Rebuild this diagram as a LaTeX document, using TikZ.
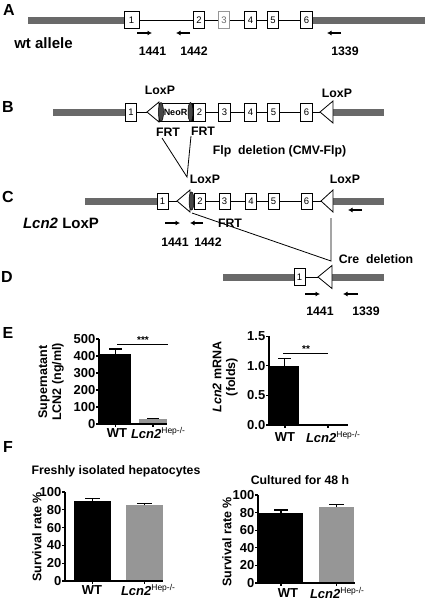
\documentclass[tikz,border=0pt]{standalone}
\usepackage{fontspec}
\setmainfont{Liberation Sans}
\usetikzlibrary{shapes.geometric,arrows.meta}
\definecolor{barg}{RGB}{105,105,105}
\definecolor{colg}{RGB}{150,150,150}
\definecolor{frtc}{RGB}{70,70,70}
\newcommand{\lcnko}{{\itshape Lcn2}\raisebox{0.42em}{\fontsize{8.5}{8.5}\selectfont\mdseries\upshape Hep-/-}}
\begin{document}
\begin{tikzpicture}[x=1pt,y=-1pt,
  exon/.style={draw, fill=white, line width=0.8pt, minimum width=11.5pt, minimum height=17pt, inner sep=0pt, font=\fontsize{9.5}{9.5}\selectfont},
  gbar/.style={line width=7pt, draw=barg},
  bb/.style={line width=1pt},
  loxp/.style={draw, fill=white, line width=0.8pt, line join=miter},
  frt/.style={ellipse, draw, fill=frtc, line width=0.5pt, minimum width=5pt, minimum height=19pt, inner sep=0pt},
  primer/.style={line width=1.1pt, -{Latex[length=4.5pt,width=5pt]}},
  lab/.style={font=\fontsize{12.3}{12}\selectfont\bfseries, inner sep=0pt},
  big/.style={font=\fontsize{15}{15}\selectfont\bfseries, inner sep=0pt},
  panel/.style={font=\fontsize{16}{16}\selectfont\bfseries, inner sep=0pt},
  thin/.style={line width=0.8pt},
  axis/.style={line width=1.1pt},
  tl/.style={font=\fontsize{13}{13}\selectfont\bfseries, inner sep=0pt, anchor=east},
  cl/.style={font=\fontsize{13}{13}\selectfont\bfseries, inner sep=0pt},
  ylab/.style={font=\fontsize{12.5}{12.5}\selectfont\bfseries, inner sep=0pt, rotate=90},
]
\useasboundingbox (0,0) rectangle (427,600);

% ---------------- Panel A ----------------
\node[panel] (pA) at (9,10) {A};
\coordinate (aS) at (28,20);
\coordinate (aE) at (425,20);
\node[exon, minimum width=15pt] (a1) at (131.5,20) {1};
\node[exon] (a2) at (199,20) {2};
\node[exon, draw=colg, text=colg!70!black] (a3) at (224,20) {3};
\node[exon] (a4) at (250.5,20) {4};
\node[exon] (a5) at (273,20) {5};
\node[exon] (a6) at (306.5,20) {6};
\draw[gbar] (aS) -- (a1);
\draw[gbar] (a6) -- (aE);
\draw[bb] (a1) -- (a2) -- (a3) -- (a4) -- (a5) -- (a6);
\coordinate (aP1s) at (137,33); \coordinate (aP1e) at (152,33);
\coordinate (aP2s) at (190,33); \coordinate (aP2e) at (176,33);
\coordinate (aP3s) at (341,33); \coordinate (aP3e) at (327,33);
\draw[primer] (aP1s) -- (aP1e);
\draw[primer] (aP2s) -- (aP2e);
\draw[primer] (aP3s) -- (aP3e);
\node[lab] (aL1) at (152.5,51) {1441};
\node[lab] (aL2) at (194,51) {1442};
\node[lab] (aL3) at (345,51) {1339};
\node[big] (wt) at (43.5,43) {wt allele};

% ---------------- Panel B ----------------
\node[panel] (pB) at (8,107) {B};
\coordinate (bS) at (53,112);
\coordinate (bE) at (384,112);
\node[exon, minimum height=18pt] (b1) at (131,112) {1};
\coordinate (bLt) at (147,112);
\draw[loxp] (bLt) -- ++(12,-10) -- ++(0,20) -- cycle;
\node[draw, line width=0.8pt, fill=white, minimum width=33pt, minimum height=18pt, inner sep=0pt,
      font=\fontsize{9}{9}\selectfont\bfseries] (neo) at (175.5,112) {NeoR};
\node[frt] (bF1) at (161,112) {};
\node[frt] (bF2) at (190.5,112) {};
\node[exon, minimum height=18pt] (b2) at (199.5,112) {2};
\node[exon, minimum height=18pt] (b3) at (224.5,112) {3};
\node[exon, minimum height=18pt] (b4) at (250.5,112) {4};
\node[exon, minimum height=18pt] (b5) at (273.5,112) {5};
\node[exon, minimum height=18pt] (b6) at (306.5,112) {6};
\coordinate (bRt) at (320,112);
\coordinate (bRb) at (333,112);
\draw[gbar] (bS) -- (b1);
\draw[gbar] (bRb) -- (bE);
\draw[loxp] (bRt) -- ++(13,-11) -- ++(0,22) -- cycle;
\draw[bb] (b1) -- (bLt);
\draw[bb] (bF2) -- (b2) -- (b3) -- (b4) -- (b5) -- (b6) -- (bRt);
\node[lab] (bLx1) at (160,90) {LoxP};
\node[lab] (bLx2) at (337,93) {LoxP};
\node[lab] (bFr1) at (168,132) {FRT};
\node[lab] (bFr2) at (203,131) {FRT};
\node[lab] (flp) at (279.5,151) {Flp\ \ deletion (CMV-Flp)};
\coordinate (fl1) at (162,138);
\coordinate (fl2) at (191,136);
\coordinate (fm) at (187,177);
\draw[thin] (fl1) -- (fm) -- (fl2);

% ---------------- Panel C ----------------
\node[panel] (pC) at (8,197) {C};
\coordinate (cS) at (85,201);
\coordinate (cE) at (384,201);
\node[exon, minimum height=16pt, minimum width=11pt] (c1) at (162.5,201) {1};
\coordinate (cLt) at (177,201);
\draw[gbar] (cS) -- (c1);
\draw[loxp] (cLt) -- ++(13,-11) -- ++(0,22) -- cycle;
\node[frt, minimum height=18pt] (cF) at (191.5,201) {};
\node[exon, minimum height=16pt, minimum width=10.5pt] (c2) at (200,201) {2};
\node[exon, minimum height=16pt, minimum width=11pt] (c3) at (224.5,201) {3};
\node[exon, minimum height=16pt, minimum width=11pt] (c4) at (251,201) {4};
\node[exon, minimum height=16pt, minimum width=11pt] (c5) at (273.5,201) {5};
\node[exon, minimum height=16pt, minimum width=11pt] (c6) at (306.5,201) {6};
\coordinate (cRt) at (321,201);
\coordinate (cRb) at (333,201);
\draw[gbar] (cRb) -- (cE);
\draw[loxp] (cRt) -- ++(12,-11) -- ++(0,22) -- cycle;
\draw[bb] (c1) -- (cLt);
\draw[bb] (c2) -- (c3) -- (c4) -- (c5) -- (c6) -- (cRt);
\node[lab] (cLx1) at (205,179) {LoxP};
\node[lab] (cLx2) at (345,179) {LoxP};
\node[big] (lcnlox) at (61,223) {{\itshape Lcn2} LoxP};
\coordinate (cP1s) at (165,223); \coordinate (cP1e) at (180,223);
\coordinate (cP2s) at (203,223); \coordinate (cP2e) at (190,223);
\coordinate (cP3s) at (362,210); \coordinate (cP3e) at (348,210);
\draw[primer] (cP1s) -- (cP1e);
\draw[primer] (cP2s) -- (cP2e);
\draw[primer] (cP3s) -- (cP3e);
\node[lab] (cFr) at (230,223) {FRT};
\node[lab] (cL1) at (175,242) {1441};
\node[lab] (cL2) at (208,242) {1442};
\coordinate (cl1) at (192,213);
\coordinate (cl2) at (331,218);
\coordinate (dm) at (331,261);
\draw[thin] (cl1) -- (dm) -- (cl2);
\node[lab] (cre) at (376,259) {Cre\ \ deletion};

% ---------------- Panel D ----------------
\node[panel] (pD) at (7,277) {D};
\coordinate (dS) at (223,277);
\coordinate (dE) at (384,277);
\node[exon, minimum width=11pt] (d1) at (299.5,277) {1};
\coordinate (dLt) at (318,277);
\coordinate (dLb) at (332,277);
\draw[gbar] (dS) -- (d1);
\draw[gbar] (dLb) -- (dE);
\draw[loxp] (dLt) -- ++(14,-11.5) -- ++(0,23) -- cycle;
\draw[bb] (d1) -- (dLt);
\coordinate (dP1s) at (305,294); \coordinate (dP1e) at (320,294);
\coordinate (dP2s) at (358,294); \coordinate (dP2e) at (343,294);
\draw[primer] (dP1s) -- (dP1e);
\draw[primer] (dP2s) -- (dP2e);
\node[lab] (dL1) at (320,311) {1441};
\node[lab] (dL2) at (366,311) {1339};

% ---------------- Panel E ----------------
\node[panel] (pE) at (8,333) {E};
\begin{scope}[shift={(99,424)}, y=0.17pt]
  \fill[black] (1,0) rectangle (32,412);
  \draw[axis] (16.5,412) -- (16.5,441);
  \draw[axis] (10,441) -- (23,441);
  \fill[colg] (40,0) rectangle (68,28);
  \draw[axis] (54,28) -- (54,33);
  \draw[axis] (48,33) -- (60,33);
  \draw[axis] (0,500) -- (0,0) -- (68,0);
  \foreach \v in {0,100,...,500} {
    \draw[axis] (-3,\v) -- (0,\v);
    \node[tl] at (-3.5,\v) {\v};
  }
  \draw[axis] (16.5,0) -- (16.5,-17);
  \draw[axis] (54,0) -- (54,-17);
\end{scope}
\coordinate (s1a) at (117,344); \coordinate (s1b) at (168,344);
\draw[thin] (s1a) -- (s1b);
\node[font=\fontsize{10}{10}\selectfont\bfseries, inner sep=0pt] (st1) at (143,340) {***};
\node[cl] (e1wt) at (117,433) {WT};
\node[cl] (e1ko) at (158,433) {\lcnko};
\node[ylab] (e1y1) at (44,382) {Supernatant};
\node[ylab] (e1y2) at (58,382) {LCN2 (ng/ml)};

\begin{scope}[shift={(269,425)}, y=59.3pt]
  \fill[black] (1,0) rectangle (30,1.0);
  \draw[axis] (15.5,1.0) -- (15.5,1.12);
  \draw[axis] (9,1.12) -- (22,1.12);
  \draw[axis] (0,1.5) -- (0,0) -- (79,0);
  \foreach \v in {0.0,0.5,1.0,1.5} {
    \draw[axis] (-3,\v) -- (0,\v);
    \node[tl] at (-3.5,\v) {\v};
  }
  \draw[axis] (16,0) -- (16,-0.05);
  \draw[axis] (59,0) -- (59,-0.05);
\end{scope}
\coordinate (s2a) at (283,353); \coordinate (s2b) at (328,353);
\draw[thin] (s2a) -- (s2b);
\node[font=\fontsize{10}{10}\selectfont\bfseries, inner sep=0pt] (st2) at (306,349) {**};
\node[cl] (e2wt) at (285,437) {WT};
\node[cl] (e2ko) at (333,437) {\lcnko};
\node[ylab] (e2y1) at (217,377) {{\itshape Lcn2} mRNA};
\node[ylab] (e2y2) at (232,377) {(folds)};

% ---------------- Panel F ----------------
\node[panel] (pF) at (8,447) {F};
\node[lab] (ft1) at (116,471) {Freshly isolated hepatocytes};
\node[lab] (ft2) at (300,480) {Cultured for 48 h};

\begin{scope}[shift={(65,581)}, y=0.89pt]
  \fill[black] (9,0) rectangle (46,90);
  \draw[axis] (27.5,90) -- (27.5,92.5);
  \draw[axis] (20,92.5) -- (35,92.5);
  \fill[colg] (61,0) rectangle (98,85);
  \draw[axis] (79.5,85) -- (79.5,87.5);
  \draw[axis] (72,87.5) -- (87,87.5);
  \draw[axis] (0,100) -- (0,0) -- (98,0);
  \foreach \v in {0,20,...,100} {
    \draw[axis] (-3,\v) -- (0,\v);
    \node[tl] at (-3.5,\v) {\v};
  }
  \draw[axis] (27.5,0) -- (27.5,-3.4);
  \draw[axis] (79.5,0) -- (79.5,-3.4);
\end{scope}
\node[cl] (f1wt) at (92,590) {WT};
\node[cl] (f1ko) at (148,590) {\lcnko};
\node[ylab] (f1y) at (37,537) {Survival rate \%};

\begin{scope}[shift={(258,583)}, y=0.88pt]
  \fill[black] (1,0) rectangle (45,80);
  \draw[axis] (23,80) -- (23,83);
  \draw[axis] (16,83) -- (30,83);
  \fill[colg] (61,0) rectangle (96,86);
  \draw[axis] (78.5,86) -- (78.5,89);
  \draw[axis] (71,89) -- (86,89);
  \draw[axis] (0,100) -- (0,0) -- (97,0);
  \foreach \v in {0,20,...,100} {
    \draw[axis] (-3,\v) -- (0,\v);
    \node[tl] at (-3.5,\v) {\v};
  }
  \draw[axis] (23,0) -- (23,-3.4);
  \draw[axis] (78.5,0) -- (78.5,-3.4);
\end{scope}
\node[cl] (f2wt) at (288,593) {WT};
\node[cl] (f2ko) at (337,593) {\lcnko};
\node[ylab] (f2y) at (227,542) {Survival rate \%};
\end{tikzpicture}
\end{document}
